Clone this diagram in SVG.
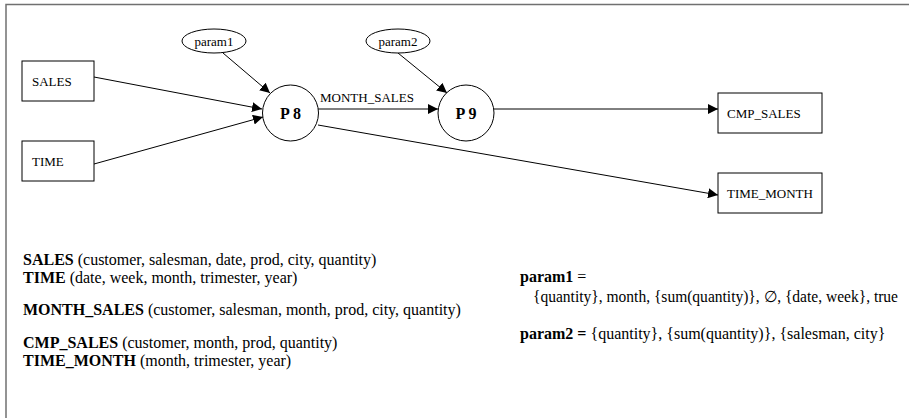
<svg xmlns="http://www.w3.org/2000/svg" width="909" height="418" viewBox="0 0 909 418">
  <style>
    .box { fill: #fff; stroke: #000; stroke-width: 1; }
    .proc { fill: #fff; stroke: #000; stroke-width: 1; }
    .edge { fill: none; stroke: #000; stroke-width: 1; }
    .lbl { font-family: "Liberation Serif", "Times New Roman", serif; font-size: 13px; fill: #000; }
    .plbl { font-family: "Liberation Serif", "Times New Roman", serif; font-size: 16px; font-weight: bold; fill: #000; }
    .note { font-family: "Liberation Serif", "Times New Roman", serif; font-size: 16px; fill: #000; }
    .note .b { font-weight: bold; }
    .frame { fill: none; stroke: #707070; stroke-width: 1.5; }
  </style>
  <defs>
    <marker id="arrow" viewBox="0 0 10 10" refX="10" refY="5" markerWidth="10" markerHeight="10" markerUnits="userSpaceOnUse" orient="auto">
      <path d="M0,0 L10,5 L0,10 z" fill="#000"/>
    </marker>
  </defs>

  <rect width="909" height="418" fill="#fff"/>
  <!-- page frame (open to the right and bottom) -->
  <path class="frame" d="M6,418 V4.5 H909"/>

  <!-- connectors -->
  <g id="connectors">
    <line class="edge" x1="94" y1="77" x2="262" y2="109" marker-end="url(#arrow)"/>
    <line class="edge" x1="94" y1="164" x2="263" y2="117" marker-end="url(#arrow)"/>
    <line class="edge" x1="223" y1="53" x2="270" y2="93" marker-end="url(#arrow)"/>
    <line class="edge" x1="318" y1="109" x2="438" y2="109" marker-end="url(#arrow)"/>
    <text class="lbl" x="320" y="102">MONTH_SALES</text>
    <line class="edge" x1="398" y1="53" x2="447" y2="93" marker-end="url(#arrow)"/>
    <line class="edge" x1="494" y1="109" x2="718" y2="109" marker-end="url(#arrow)"/>
    <line class="edge" x1="318" y1="125" x2="718" y2="195" marker-end="url(#arrow)"/>
  </g>

  <!-- data stores -->
  <g id="sales">
    <rect class="box" x="22" y="61" width="72" height="40"/>
    <text class="lbl" x="32" y="86">SALES</text>
  </g>
  <g id="time">
    <rect class="box" x="22" y="141" width="72" height="40"/>
    <text class="lbl" x="32" y="166">TIME</text>
  </g>
  <g id="cmp_sales">
    <rect class="box" x="718" y="93" width="104" height="40"/>
    <text class="lbl" x="727" y="118">CMP_SALES</text>
  </g>
  <g id="time_month">
    <rect class="box" x="718" y="173" width="104" height="40"/>
    <text class="lbl" x="727" y="198">TIME_MONTH</text>
  </g>

  <!-- parameters -->
  <g id="param1">
    <ellipse class="box" cx="214" cy="41" rx="32" ry="12"/>
    <text class="lbl" x="214" y="45.5" text-anchor="middle">param1</text>
  </g>
  <g id="param2">
    <ellipse class="box" cx="398" cy="41" rx="32" ry="12"/>
    <text class="lbl" x="398" y="45.5" text-anchor="middle">param2</text>
  </g>

  <!-- processes -->
  <g id="p8">
    <circle class="proc" cx="290.5" cy="113" r="28"/>
    <text class="plbl" x="290.5" y="119" text-anchor="middle">P 8</text>
  </g>
  <g id="p9">
    <circle class="proc" cx="466" cy="113" r="28"/>
    <text class="plbl" x="466" y="119" text-anchor="middle">P 9</text>
  </g>

  <!-- schema notes -->
  <g id="schemas" class="note">
    <text x="23" y="265"><tspan class="b">SALES</tspan> (customer, salesman, date, prod, city, quantity)</text>
    <text x="23" y="283"><tspan class="b">TIME</tspan> (date, week, month, trimester, year)</text>
    <text x="23" y="315"><tspan class="b">MONTH_SALES</tspan> (customer, salesman, month, prod, city, quantity)</text>
    <text x="23" y="348"><tspan class="b">CMP_SALES</tspan> (customer, month, prod, quantity)</text>
    <text x="23" y="366"><tspan class="b">TIME_MONTH</tspan> (month, trimester, year)</text>
  </g>
  <g id="params" class="note">
    <text x="520" y="282"><tspan class="b">param1</tspan> =</text>
    <text x="533" y="302" textLength="365" lengthAdjust="spacingAndGlyphs">{quantity}, month, {sum(quantity)}, ∅, {date, week}, true</text>
    <text x="520" y="339"><tspan class="b">param2 =</tspan> {quantity}, {sum(quantity)}, {salesman, city}</text>
  </g>
</svg>
